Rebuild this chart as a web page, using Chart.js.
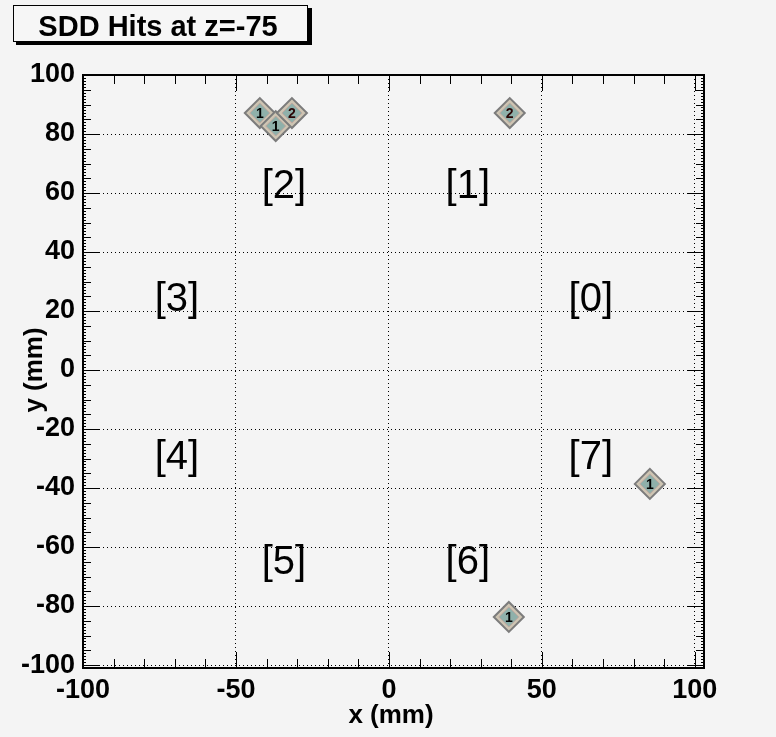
<!DOCTYPE html>
<html>
<head>
<meta charset="utf-8">
<script src="https://cdn.jsdelivr.net/npm/chart.js@4.4.1/dist/chart.umd.min.js"></script>
<style>
  html, body { margin: 0; padding: 0; background: #f4f4f4; }
  #wrap { width: 776px; height: 737px; }
</style>
</head>
<body>
<div id="wrap"><canvas id="hits" width="776" height="737"></canvas></div>
<script>
'use strict';

// hits (mm) and the count written on each marker
const hitX = [-42.2, -37.0, -31.7, 39.5, 85.3, 39.2];
const hitY = [87.1, 82.7, 87.1, 87.1, -38.6, -83.7];
const hitCount = ['1', '1', '2', '2', '1', '1'];

// detector sector labels
const sectorNames = ['[0]', '[1]', '[2]', '[3]', '[4]', '[5]', '[6]', '[7]'];
const sectorX = [66.0, 25.8, -34.3, -69.3, -69.3, -34.3, 25.8, 66.0];
const sectorY = [23.7, 62.0, 62.0, 23.7, -29.8, -65.4, -65.4, -29.8];

const xTicks = [-100, -50, 0, 50, 100];
const yTicks = [-100, -80, -60, -40, -20, 0, 20, 40, 60, 80, 100];

const toPoints = () => hitX.map((x, i) => ({ x: x, y: hitY[i] }));
const FONT = '"Liberation Sans", Helvetica, Arial, sans-serif';

const rootFrame = {
  id: 'rootFrame',
  beforeDatasetsDraw(chart) {
    const ctx = chart.ctx;
    const a = chart.chartArea;
    const xs = chart.scales.x;
    const ys = chart.scales.y;
    ctx.save();
    ctx.strokeStyle = '#000';
    ctx.lineWidth = 1;
    ctx.beginPath();
    // x ticks, bottom and top
    for (let v = -100; v <= 100; v += 10) {
      const px = Math.round(xs.getPixelForValue(v)) + 0.5;
      const len = v % 50 === 0 ? 16 : 9;
      ctx.moveTo(px, a.bottom);
      ctx.lineTo(px, a.bottom - len);
      ctx.moveTo(px, a.top);
      ctx.lineTo(px, a.top + len);
    }
    // y ticks, left and right
    for (let v = -100; v <= 100; v += 1) {
      const py = Math.round(ys.getPixelForValue(v)) + 0.5;
      let len = 3;
      if (v % 20 === 0) len = 16;
      else if (v % 5 === 0) len = 8;
      ctx.moveTo(a.left, py);
      ctx.lineTo(a.left + len, py);
      ctx.moveTo(a.right, py);
      ctx.lineTo(a.right - len, py);
    }
    ctx.stroke();
    ctx.lineWidth = 2;
    ctx.strokeRect(a.left, a.top, a.right - a.left, a.bottom - a.top);
    ctx.restore();
  },
  afterDatasetsDraw(chart) {
    const ctx = chart.ctx;
    const xs = chart.scales.x;
    const ys = chart.scales.y;
    ctx.save();
    ctx.textAlign = 'center';
    ctx.textBaseline = 'middle';
    ctx.font = 'bold 14px ' + FONT;
    hitCount.forEach((c, i) => {
      ctx.fillStyle = c === '2' ? '#2a0505' : '#000';
      ctx.fillText(c, xs.getPixelForValue(hitX[i]), ys.getPixelForValue(hitY[i]) + 1);
    });
    ctx.fillStyle = '#000';
    ctx.font = '40px ' + FONT;
    sectorNames.forEach((s, i) => {
      ctx.fillText(s, xs.getPixelForValue(sectorX[i]), ys.getPixelForValue(sectorY[i]));
    });
    ctx.restore();
  },
  afterDraw(chart) {
    const ctx = chart.ctx;
    ctx.save();
    // title box with shadow
    ctx.fillStyle = '#000';
    ctx.fillRect(308, 8, 4, 37);
    ctx.fillRect(16, 42, 296, 3);
    ctx.fillStyle = '#f6f6f6';
    ctx.fillRect(13, 5, 295, 37);
    ctx.strokeStyle = '#000';
    ctx.lineWidth = 1;
    ctx.strokeRect(13.5, 5.5, 294, 36);
    ctx.fillStyle = '#000';
    ctx.textAlign = 'center';
    ctx.textBaseline = 'alphabetic';
    ctx.font = 'bold 29px ' + FONT;
    ctx.fillText('SDD Hits at z=-75', 158, 36);
    // axis titles
    ctx.font = 'bold 26px ' + FONT;
    ctx.fillText('x (mm)', 391, 723);
    ctx.translate(35, 370);
    ctx.rotate(-Math.PI / 2);
    ctx.textBaseline = 'middle';
    ctx.fillText('y (mm)', 0, 0);
    ctx.restore();
  }
};

new Chart(document.querySelector('#hits'), {
  type: 'scatter',
  data: {
    datasets: [
      {
        // inner core, listed first so it is drawn on top
        data: toPoints(),
        pointStyle: 'rectRot',
        pointRadius: 10,
        pointBackgroundColor: '#8fb0aa',
        pointBorderColor: '#c0a8a0',
        pointBorderWidth: 1,
      },
      {
        data: toPoints(),
        pointStyle: 'rectRot',
        pointRadius: 15,
        pointBackgroundColor: '#cec5b3',
        pointBorderColor: '#7c7c7c',
        pointBorderWidth: 2,
      },
    ],
  },
  options: {
    responsive: false,
    animation: false,
    events: [],
    layout: { padding: { top: 75, right: 72, left: 0, bottom: 0 } },
    plugins: {
      legend: { display: false },
      tooltip: { enabled: false },
    },
    scales: {
      x: {
        type: 'linear',
        min: -100,
        max: 103,
        afterBuildTicks: (s) => { s.ticks = xTicks.map((v) => ({ value: v })); },
        afterFit: (s) => { s.height = 69; },
        grid: { color: '#000', lineWidth: 1, drawTicks: false },
        border: { display: false, dash: [1, 3] },
        ticks: {
          color: '#000',
          padding: 6,
          maxRotation: 0,
          font: { family: FONT, size: 27, weight: 'bold' },
        },
      },
      y: {
        type: 'linear',
        min: -101,
        max: 100,
        afterBuildTicks: (s) => { s.ticks = yTicks.map((v) => ({ value: v })); },
        afterFit: (s) => { s.width = 83; },
        grid: { color: '#000', lineWidth: 1, drawTicks: false },
        border: { display: false, dash: [1, 3] },
        ticks: {
          color: '#000',
          padding: 8,
          font: { family: FONT, size: 27, weight: 'bold' },
        },
      },
    },
  },
  plugins: [rootFrame],
});
</script>
</body>
</html>
